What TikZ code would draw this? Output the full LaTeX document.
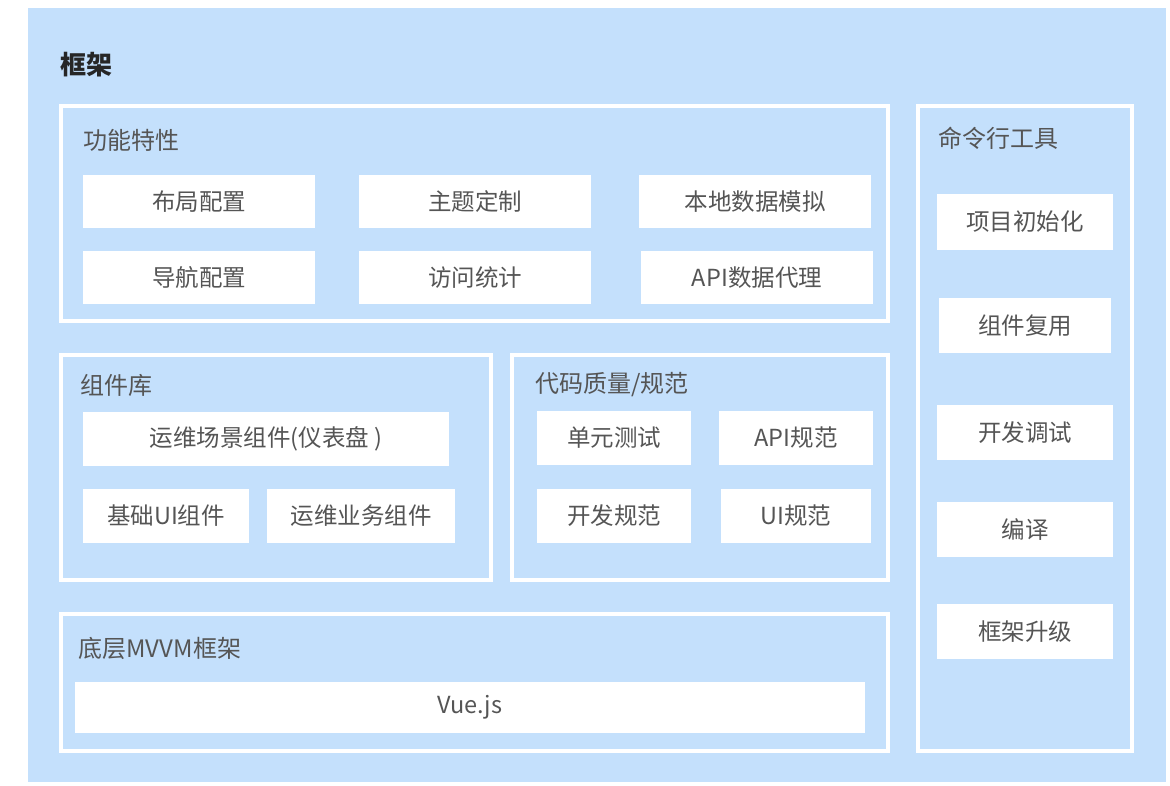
\documentclass[tikz,border=0pt]{standalone}
\usepackage{fontspec}
\setmainfont{Noto Sans CJK SC}
\definecolor{bgblue}{RGB}{196,224,252}
\definecolor{txtgray}{RGB}{85,85,85}
\definecolor{ttlgray}{RGB}{38,38,38}
\tikzset{
  group/.style={draw=white, line width=3.5pt, minimum width=#1},
  item/.style={fill=white, text=txtgray, font=\fontsize{23.5}{27}\selectfont, inner sep=0pt, minimum width=#1},
  heading/.style={anchor=west, text=txtgray, font=\fontsize{24}{28}\selectfont, inner sep=0pt}
}
\begin{document}
\begin{tikzpicture}[x=1pt,y=-1pt]
    \useasboundingbox (0,0) rectangle (1170,786);
    \fill[bgblue] (28,8) rectangle (1166,782);
    \node[heading, text=ttlgray, font=\fontsize{26}{30}\selectfont\bfseries] (title) at (60,65) {框架};

    \node[group=827pt, minimum height=215pt] (feat) at (474.5,213.5) {};
    \node[group=430pt, minimum height=225pt] (lib) at (276,467.5) {};
    \node[group=376pt, minimum height=225pt] (code) at (700,467.5) {};
    \node[group=827pt, minimum height=137pt] (mvvm) at (474.5,682.5) {};
    \node[group=214pt, minimum height=645pt] (cli) at (1025,428.5) {};

    \node[heading] (featT) at (83,140) {功能特性};
    \node[heading] (libT) at (80,385) {组件库};
    \node[heading] (codeT) at (535,385) {代码质量/规范};
    \node[heading] (mvvmT) at (78,648) {底层MVVM框架};
    \node[heading] (cliT) at (938,138) {命令行工具};

    \node[item=232pt, minimum height=53pt] (layout) at (199,201.5) {布局配置};
    \node[item=232pt, minimum height=53pt] (theme) at (475,201.5) {主题定制};
    \node[item=232pt, minimum height=53pt] (mock) at (755,201.5) {本地数据模拟};
    \node[item=232pt, minimum height=53pt] (nav) at (199,277.5) {导航配置};
    \node[item=232pt, minimum height=53pt] (stats) at (475,277.5) {访问统计};
    \node[item=232pt, minimum height=53pt] (proxy) at (757,277.5) {API数据代理};

    \node[item=366pt, minimum height=54pt] (dash) at (266,439) {运维场景组件(仪表盘 )};
    \node[item=166pt, minimum height=54pt] (baseui) at (166,516) {基础UI组件};
    \node[item=188pt, minimum height=54pt] (biz) at (361,516) {运维业务组件};

    \node[item=154pt, minimum height=54pt] (unit) at (614,438) {单元测试};
    \node[item=154pt, minimum height=54pt] (apispec) at (796,438) {API规范};
    \node[item=154pt, minimum height=54pt] (devspec) at (614,516) {开发规范};
    \node[item=150pt, minimum height=54pt] (uispec) at (796,516) {UI规范};

    \node[item=790pt, minimum height=51pt] (vue) at (470,707.5) {Vue.js};

    \node[item=176pt, minimum height=56pt] (init) at (1025,222) {项目初始化};
    \node[item=172pt, minimum height=55pt] (reuse) at (1025,325.5) {组件复用};
    \node[item=176pt, minimum height=55pt] (debug) at (1025,432.5) {开发调试};
    \node[item=176pt, minimum height=55pt] (build) at (1025,529.5) {编译};
    \node[item=176pt, minimum height=55pt] (upgrade) at (1025,631.5) {框架升级};
\end{tikzpicture}
\end{document}
